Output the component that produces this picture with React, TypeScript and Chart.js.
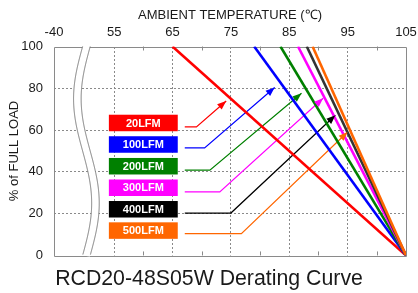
import React, { useEffect, useRef } from 'react';
import { Chart, registerables } from 'chart.js';

Chart.register(...registerables);

// ---- data ----
const airflows = ['20LFM', '100LFM', '200LFM', '300LFM', '400LFM', '500LFM'];
const lineColors = ['#ff0000', '#0000ff', '#008000', '#ff00ff', '#333333', '#ff6600'];
const boxColors = ['#ff0000', '#0000ff', '#008000', '#ff00ff', '#000000', '#ff6600'];
const deratingStartTemp = [65, 79, 83.5, 86.5, 88, 89];
const fullLoadPct = 100;
const zeroLoadTemp = 105;
const zeroLoadPct = 0;

const xTickValues = [44.7, 55, 65, 75, 85, 95, 105];
const xTickLabels = ['-40', '55', '65', '75', '85', '95', '105'];
const xMinorTicks = [60, 70, 80, 90, 100];

// annotation (label boxes + arrows) positions, in axis units
const labelY = [63.4, 53.1, 42.7, 32.4, 22.1, 11.9];
const arrowStartX = [67.1, 67.1, 67.1, 67.1, 67.1, 67.1];
const arrowBendX = [69.1, 70.5, 71.4, 73.1, 75.0, 76.8];
const arrowY = [61.5, 51.5, 40.8, 30.4, 20.3, 10.4];
const arrowTipX = [74.2, 82.5, 87.1, 90.8, 92.9, 95.0];
const arrowTipY = [73.9, 80.4, 77.6, 75.2, 67.1, 59.1];

const X_MIN = 44.7;
const X_MAX = 105;
const BOX_LEFT = 54.1;
const BOX_RIGHT = 65.9;
const BOX_H = 7.9;
const BREAK_AT = 49.6;
const BREAK_AMP = 1.55;
const BREAK_GAP = 1.3;

const FONT = "'Liberation Sans', Arial, sans-serif";
const FRAME = '#8a8a8a';

const framePlugin = {
  id: 'frameAndBoxes',
  beforeDatasetsDraw(chart: any) {
    const { ctx, chartArea, scales } = chart;
    const x = scales.x, y = scales.y;
    const { left, right, top, bottom } = chartArea;
    ctx.save();
    ctx.strokeStyle = FRAME;
    ctx.lineWidth = 1;
    ctx.beginPath();
    ctx.rect(Math.round(left) + 0.5, Math.round(top) + 0.5, Math.round(right - left), Math.round(bottom - top));
    ctx.stroke();
    ctx.beginPath();
    xMinorTicks.forEach((v) => {
      const px = Math.round(x.getPixelForValue(v)) + 0.5;
      ctx.moveTo(px, top);
      ctx.lineTo(px, top + 4);
      ctx.moveTo(px, bottom);
      ctx.lineTo(px, bottom - 4);
    });
    ctx.stroke();
    const bx = x.getPixelForValue(BREAK_AT);
    const amp = x.getPixelForValue(BREAK_AT + BREAK_AMP) - bx;
    const gap = x.getPixelForValue(BREAK_AT + BREAK_GAP) - bx;
    const h = bottom - top;
    const wave = (py: number) => bx - amp * Math.sin((2 * Math.PI * (py - top)) / h);
    ctx.fillStyle = '#ffffff';
    ctx.beginPath();
    for (let py = top - 1; py <= bottom + 1; py += 1) {
      const px = wave(py);
      if (py === top - 1) ctx.moveTo(px, py); else ctx.lineTo(px, py);
    }
    for (let py = bottom + 1; py >= top - 1; py -= 1) ctx.lineTo(wave(py) + gap, py);
    ctx.closePath();
    ctx.fill();
    ctx.strokeStyle = '#777777';
    [0, gap].forEach((off) => {
      ctx.beginPath();
      for (let py = top; py <= bottom; py += 1) {
        const px = wave(py) + off;
        if (py === top) ctx.moveTo(px, py); else ctx.lineTo(px, py);
      }
      ctx.stroke();
    });
    const x1 = x.getPixelForValue(BOX_LEFT);
    const x2 = x.getPixelForValue(BOX_RIGHT);
    const bh = y.getPixelForValue(0) - y.getPixelForValue(BOX_H);
    ctx.font = `bold 11px ${FONT}`;
    ctx.textAlign = 'center';
    ctx.textBaseline = 'middle';
    airflows.forEach((name, i) => {
      const yc = y.getPixelForValue(labelY[i]);
      ctx.fillStyle = boxColors[i];
      ctx.fillRect(x1, yc - bh / 2, x2 - x1, bh);
      ctx.fillStyle = '#ffffff';
      ctx.fillText(name, (x1 + x2) / 2, yc + 0.5);
    });
    ctx.restore();
  },
  afterDatasetsDraw(chart: any) {
    const { ctx, scales } = chart;
    const x = scales.x, y = scales.y;
    ctx.save();
    airflows.forEach((_, i) => {
      const tx = x.getPixelForValue(arrowTipX[i]);
      const ty = y.getPixelForValue(arrowTipY[i]);
      const bx = x.getPixelForValue(arrowBendX[i]);
      const by = y.getPixelForValue(arrowY[i]);
      const ang = Math.atan2(ty - by, tx - bx);
      const len = 9, wid = 3.5;
      ctx.fillStyle = lineColors[i] === '#333333' ? '#000000' : lineColors[i];
      ctx.beginPath();
      ctx.moveTo(tx, ty);
      ctx.lineTo(tx - len * Math.cos(ang) + wid * Math.sin(ang), ty - len * Math.sin(ang) - wid * Math.cos(ang));
      ctx.lineTo(tx - len * Math.cos(ang) - wid * Math.sin(ang), ty - len * Math.sin(ang) + wid * Math.cos(ang));
      ctx.closePath();
      ctx.fill();
    });
    ctx.restore();
  },
};

export default function App() {
  const ref = useRef<HTMLCanvasElement | null>(null);
  useEffect(() => {
    if (!ref.current) return;
    Chart.defaults.font.family = FONT;
    const deratingSets = airflows.map((name, i) => ({
      label: name,
      data: [
        { x: deratingStartTemp[i], y: fullLoadPct },
        { x: zeroLoadTemp, y: zeroLoadPct },
      ],
      borderColor: lineColors[i],
      borderWidth: 2.6,
      pointRadius: 0,
      order: 5 - i,
    }));
    const arrowSets = airflows.map((name, i) => ({
      label: name + ' arrow',
      data: [
        { x: arrowStartX[i], y: arrowY[i] },
        { x: arrowBendX[i], y: arrowY[i] },
        { x: arrowTipX[i], y: arrowTipY[i] },
      ],
      borderColor: lineColors[i] === '#333333' ? '#000000' : lineColors[i],
      borderWidth: 1.2,
      pointRadius: 0,
      order: 20 - i,
    }));
    const gridColor = (c: any) => {
      const n = c.chart.scales[c.scale.id]?.ticks?.length ?? 0;
      return c.index === 0 || c.index === n - 1 ? 'rgba(0,0,0,0)' : '#8a8a8a';
    };
    const chart = new Chart(ref.current, {
      type: 'line',
      data: { datasets: [...deratingSets, ...arrowSets] as any },
      plugins: [framePlugin],
      options: {
        animation: false,
        responsive: false,
        events: [],
        layout: { padding: { left: 0, right: 0, top: 0, bottom: 0 } },
        plugins: {
          legend: { display: false },
          tooltip: { enabled: false },
          title: {
            display: true,
            position: 'bottom',
            text: 'RCD20-48S05W Derating Curve',
            color: '#1a1a1a',
            font: { size: 21.3, weight: 'normal', family: FONT },
            padding: { top: 11, bottom: 1 },
          },
        },
        scales: {
          x: {
            type: 'linear',
            position: 'top',
            min: X_MIN,
            max: X_MAX,
            afterBuildTicks: (s: any) => {
              s.ticks = xTickValues.map((v) => ({ value: v }));
            },
            afterFit: (s: any) => {
              s.height = 46.5;
              s.paddingLeft = 0;
              s.paddingRight = 12;
            },
            ticks: {
              callback: (_v: any, idx: number) => xTickLabels[idx],
              color: '#1a1a1a',
              font: { size: 13, family: FONT },
              padding: 6,
              maxRotation: 0,
              autoSkip: false,
            },
            grid: { color: gridColor, drawTicks: false, lineWidth: 1 },
            border: { display: false, dash: [2, 2] },
            title: {
              display: true,
              text: 'AMBIENT TEMPERATURE (℃)',
              color: '#1a1a1a',
              font: { size: 13, family: FONT },
              padding: { top: 8, bottom: 0 },
            },
          },
          y: {
            type: 'linear',
            min: 0,
            max: 100,
            afterFit: (s: any) => {
              s.width = 54;
              s.paddingTop = 0;
              s.paddingBottom = 0;
            },
            ticks: {
              stepSize: 20,
              color: '#1a1a1a',
              font: { size: 13, family: FONT },
              padding: 11,
            },
            grid: { color: gridColor, drawTicks: false, lineWidth: 1 },
            border: { display: false, dash: [2, 2] },
            title: {
              display: true,
              text: '% of FULL LOAD',
              color: '#1a1a1a',
              font: { size: 13, family: FONT },
              padding: { top: 7, bottom: 0 },
            },
          },
        },
      } as any,
    });
    return () => chart.destroy();
  }, []);
  return (
    <div style={{ position: 'absolute', left: 0, top: 0, width: 418, height: 293 }}>
      <canvas ref={ref} width={418} height={293} style={{ width: 418, height: 293 }} />
    </div>
  );
}
